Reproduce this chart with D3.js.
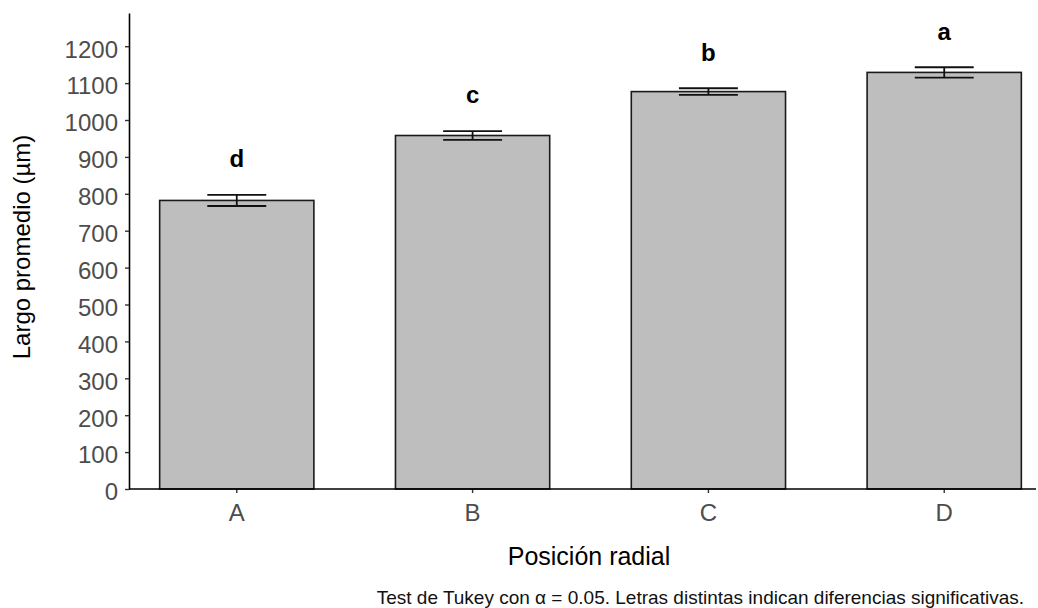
<!DOCTYPE html>
<html>
<head>
<meta charset="utf-8">
<script src="https://cdn.jsdelivr.net/npm/d3@7"></script>
<style>
	body { margin: 0; background: white; }
	svg text { font-family: 'Liberation Sans', Arial, sans-serif; }
</style>
</head>
<body>
<svg id="chart" width="1038" height="608"></svg>
<script>
'use strict'

// data
var categories = ['A', 'B', 'C', 'D'];
var means = [782, 958, 1077, 1129];
var errors = [15, 12, 9, 14];
var letters = ['d', 'c', 'b', 'a'];
var yTicks = [0, 100, 200, 300, 400, 500, 600, 700, 800, 900, 1000, 1100, 1200];

var svg = d3.select('#chart');

var x = d3.scaleBand()
	.domain(categories)
	.range([129, 1052])
	.paddingInner(0.346)
	.paddingOuter(0.13);

var y = d3.scaleLinear()
	.domain([0, 1290])
	.range([489, 13]);

var bars = categories.map(function(c, i) {
	return { cat: c, mean: means[i], se: errors[i], letter: letters[i] };
});

// y axis
var yAxis = svg.append('g')
	.attr('transform', 'translate(129,0)')
	.call(d3.axisLeft(y).tickValues(yTicks).tickFormat(d3.format('d')).tickSize(4).tickPadding(7).tickSizeOuter(0));

yAxis.select('.domain').attr('stroke', '#000').attr('stroke-width', 1.6);
yAxis.selectAll('.tick line').attr('stroke', '#333').attr('stroke-width', 1.4);
yAxis.selectAll('.tick text')
	.attr('dy', '0.45em')
	.style('font-size', '24px')
	.attr('fill', '#4d4d4d');

// bars
svg.append('g')
	.selectAll('rect')
	.data(bars)
	.enter()
	.append('rect')
	.attr('x', function(d) { return x(d.cat); })
	.attr('y', function(d) { return y(d.mean); })
	.attr('width', x.bandwidth())
	.attr('height', function(d) { return y(0) - y(d.mean); })
	.attr('fill', '#bebebe')
	.attr('stroke', '#1a1a1a')
	.attr('stroke-width', 1.6);

// error bars
var capW = x.step() * 0.25;
var eb = svg.append('g')
	.selectAll('g')
	.data(bars)
	.enter()
	.append('g')
	.attr('stroke', '#111')
	.attr('stroke-width', 1.8);

eb.append('line')
	.attr('x1', function(d) { return x(d.cat) + x.bandwidth() / 2; })
	.attr('x2', function(d) { return x(d.cat) + x.bandwidth() / 2; })
	.attr('y1', function(d) { return y(d.mean + d.se); })
	.attr('y2', function(d) { return y(d.mean - d.se); });

eb.selectAll('.cap')
	.data(function(d) { return [d.mean + d.se, d.mean - d.se].map(function(v) { return { cat: d.cat, v: v }; }); })
	.enter()
	.append('line')
	.attr('class', 'cap')
	.attr('x1', function(d) { return x(d.cat) + x.bandwidth() / 2 - capW / 2; })
	.attr('x2', function(d) { return x(d.cat) + x.bandwidth() / 2 + capW / 2; })
	.attr('y1', function(d) { return y(d.v); })
	.attr('y2', function(d) { return y(d.v); });

// significance letters
svg.append('g')
	.selectAll('text')
	.data(bars)
	.enter()
	.append('text')
	.attr('x', function(d) { return x(d.cat) + x.bandwidth() / 2; })
	.attr('y', function(d) { return y(d.mean + d.se + 75); })
	.attr('text-anchor', 'middle')
	.style('font-size', '24px')
	.style('font-weight', 'bold')
	.attr('fill', '#000')
	.text(function(d) { return d.letter; });

// x axis
var xAxis = svg.append('g')
	.attr('transform', 'translate(0,489)')
	.call(d3.axisBottom(x).tickSize(4).tickSizeOuter(0));

xAxis.select('.domain').remove();
xAxis.append('line')
	.attr('x1', 129)
	.attr('x2', 1036)
	.attr('stroke', '#000')
	.attr('stroke-width', 1.6);
xAxis.selectAll('.tick line').attr('stroke', '#333').attr('stroke-width', 1.4);
xAxis.selectAll('.tick text')
	.attr('y', 14.5)
	.style('font-size', '24px')
	.attr('fill', '#4d4d4d');

// titles
svg.append('text')
	.attr('transform', 'translate(30,247) rotate(-90)')
	.attr('text-anchor', 'middle')
	.style('font-size', '24px')
	.attr('fill', '#000')
	.text('Largo promedio (µm)');

svg.append('text')
	.attr('x', 589)
	.attr('y', 565)
	.attr('text-anchor', 'middle')
	.style('font-size', '25px')
	.attr('fill', '#000')
	.text('Posición radial');

svg.append('text')
	.attr('x', 1024)
	.attr('y', 604)
	.attr('text-anchor', 'end')
	.style('font-size', '19px')
	.attr('fill', '#111')
	.text('Test de Tukey con α = 0.05. Letras distintas indican diferencias significativas.');
</script>
</body>
</html>
